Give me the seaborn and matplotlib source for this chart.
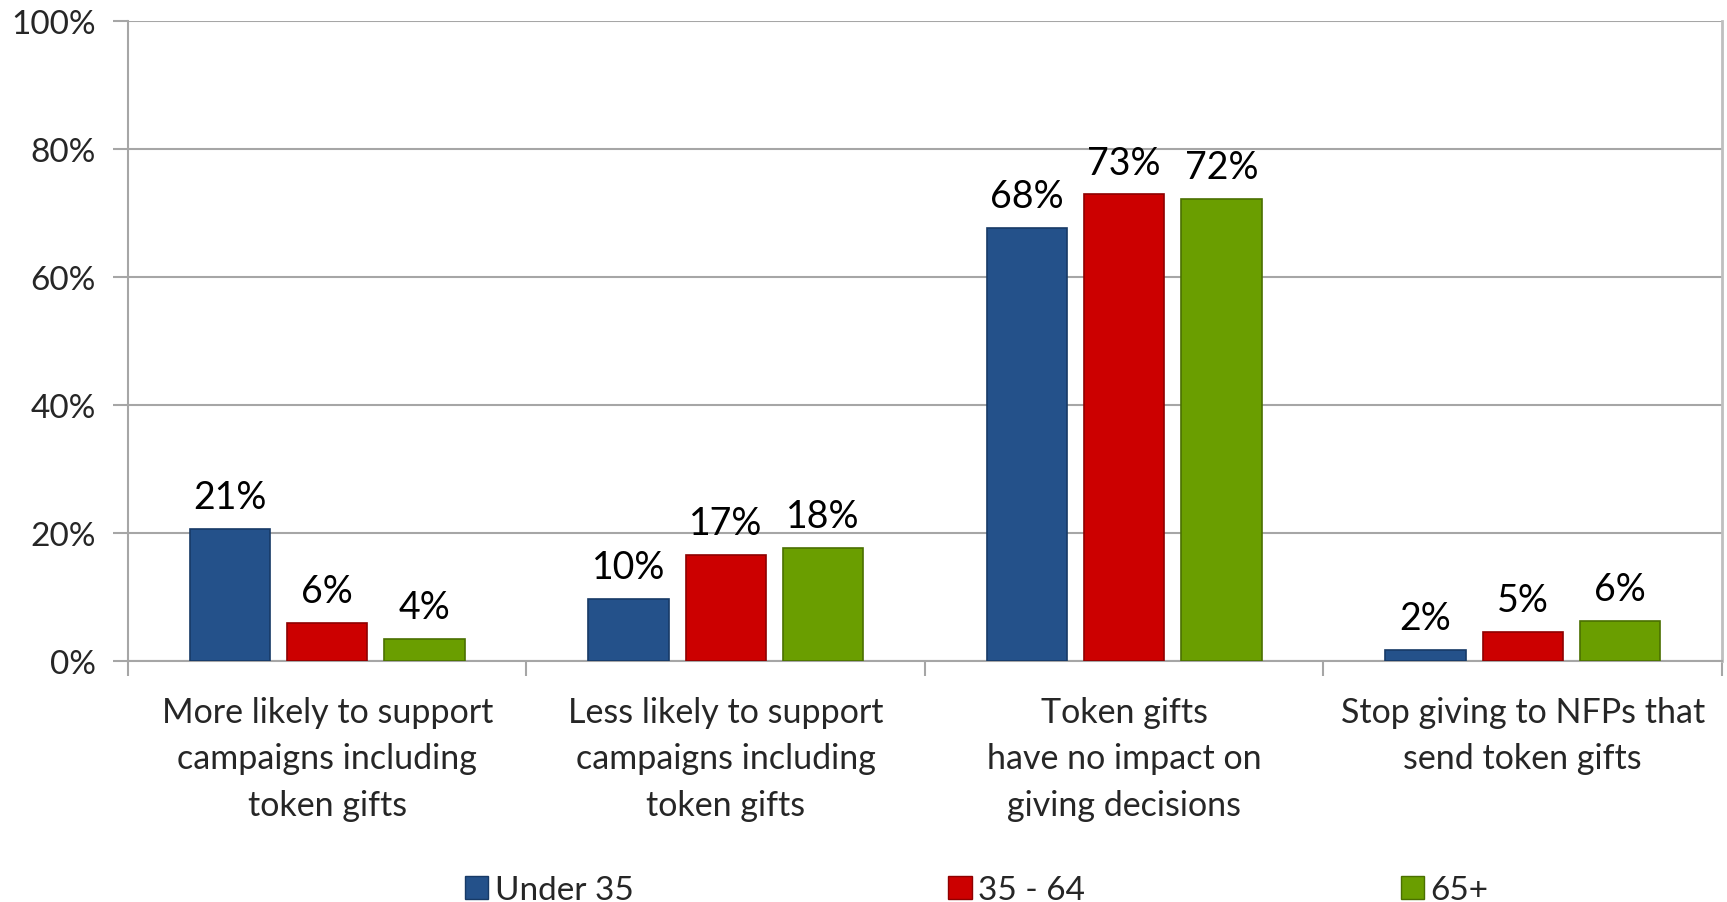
import matplotlib
matplotlib.use("Agg")
import matplotlib.pyplot as plt
import seaborn as sns
import pandas as pd
import numpy as np
from matplotlib.ticker import FixedLocator, FuncFormatter

# Survey responses on token gifts, by age group (% of respondents)
categories = [
    "More likely to support\ncampaigns including\ntoken gifts",
    "Less likely to support\ncampaigns including\ntoken gifts",
    "Token gifts\nhave no impact on\ngiving decisions",
    "Stop giving to NFPs that\nsend token gifts",
]
age_groups = ["Under 35", "35 - 64", "65+"]
under_35 = [20.7, 9.7, 67.6, 1.7]
age_35_64 = [5.9, 16.6, 72.9, 4.6]
age_65_plus = [3.5, 17.6, 72.2, 6.2]
y_ticks = [0, 20, 40, 60, 80, 100]

colors = ["#24518A", "#CC0000", "#6A9E00"]
edge_colors = ["#173A66", "#8E0000", "#4A7000"]

df = pd.DataFrame({
    "category": np.repeat(categories, 3),
    "group": age_groups * len(categories),
    "value": np.ravel(np.column_stack([under_35, age_35_64, age_65_plus])),
})

sns.set_theme(style="white")
plt.rcParams["font.family"] = ["Lato", "DejaVu Sans"]

fig = plt.figure(figsize=(17.27, 9.03), dpi=100)
ax = fig.add_axes([0.0741, 0.2669, 0.9230, 0.7087])

sns.barplot(data=df, x="category", y="value", hue="group",
            hue_order=age_groups, order=categories, palette=colors,
            width=0.733, gap=0.175, saturation=1, legend=True, ax=ax)

# Style bars per series and put value labels on top
for container, ec in zip(ax.containers, edge_colors):
    for bar in container:
        bar.set_edgecolor(ec)
        bar.set_linewidth(1.2)
        bar.set_zorder(3)
    ax.bar_label(container, labels=[f"{v:.0f}%" for v in container.datavalues],
                 padding=10, fontsize=27, color="black")

ax.set_xlim(-0.5, len(categories) - 0.5)
ax.set_ylim(0, 100)
ax.yaxis.set_major_locator(FixedLocator(y_ticks))
ax.yaxis.set_major_formatter(FuncFormatter(lambda v, p: f"{v:.0f}%"))
ax.grid(axis="y", color="#A6A6A6", linewidth=1.5, zorder=0)
ax.set_axisbelow(True)

# Category labels centered, tick marks on group boundaries
ax.set_xticks(range(len(categories)))
ax.set_xticklabels(categories, fontsize=24.5, linespacing=1.56)
ax.set_xticks(np.arange(-0.5, len(categories)), minor=True)
ax.tick_params(axis="x", which="major", length=0, pad=25)
ax.tick_params(axis="x", which="minor", length=11, width=1.5,
               color="#A6A6A6", direction="out", bottom=True)
ax.tick_params(axis="y", length=11, width=1.5, color="#A6A6A6",
               direction="out", left=True, pad=12, labelsize=24)
ax.set_xlabel("")
ax.set_ylabel("")

for side in ["left", "bottom"]:
    ax.spines[side].set_color("#A6A6A6")
    ax.spines[side].set_linewidth(1.5)
ax.spines["right"].set_color("#BFBFBF")
ax.spines["right"].set_linewidth(2)
ax.spines["top"].set_visible(False)

# Legend along the bottom
handles, labels = ax.get_legend_handles_labels()
for h, ec in zip(handles, edge_colors):
    h.set_edgecolor(ec)
ax.legend(handles, labels, ncol=3, mode="expand", frameon=False,
          fontsize=24, handlelength=0.7, handleheight=0.7,
          handletextpad=0.2, borderaxespad=0, borderpad=0,
          columnspacing=0,
          bbox_to_anchor=(0.269, 0.0, 0.593, 0.026),
          bbox_transform=fig.transFigure, loc="center left")

fig.savefig("out.png", dpi=100, facecolor="white")
